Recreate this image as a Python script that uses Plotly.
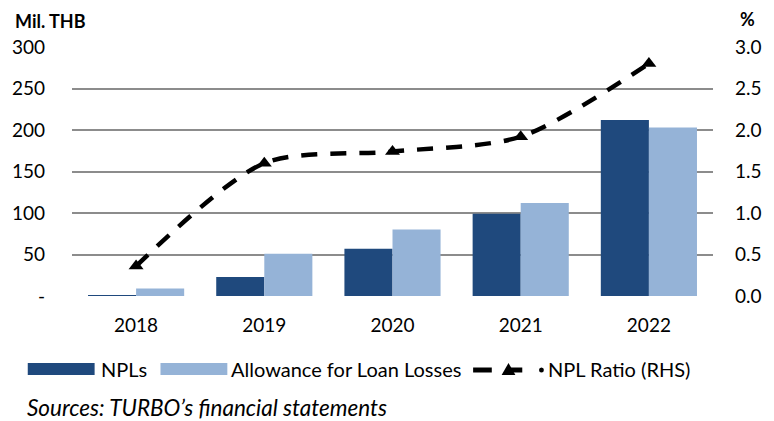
import plotly.graph_objects as go

years = ["2018", "2019", "2020", "2021", "2022"]
npls = [1, 23, 57, 99, 212]
allowance = [9, 51, 80, 112, 203]
npl_ratio = [0.36, 1.6, 1.74, 1.92, 2.8]

left_ticks = [0, 50, 100, 150, 200, 250, 300]
left_text = ["-", "50", "100", "150", "200", "250", "300"]
right_ticks = [0, 0.5, 1.0, 1.5, 2.0, 2.5, 3.0]
right_text = ["0.0", "0.5", "1.0", "1.5", "2.0", "2.5", "3.0"]

C_NPL = "#1F497D"
C_ALW = "#95B3D7"
FONT = "Lato"

W, H = 774, 421
L, R, T, B = 70, 52, 47, 125
pw, ph = W - L - R, H - T - B

def px(x):
    return (x - L) / pw

def py(y):
    return (H - B - y) / ph

fig = go.Figure()
fig.add_trace(go.Bar(x=years, y=npls, name="NPLs", marker_color=C_NPL,
                     marker_line_width=0, showlegend=False))
fig.add_trace(go.Bar(x=years, y=allowance, name="Allowance for Loan Losses",
                     marker_color=C_ALW, marker_line_width=0, showlegend=False))
fig.add_trace(go.Scatter(x=years, y=npl_ratio, yaxis="y2", mode="lines+markers",
                         name="NPL Ratio (RHS)", showlegend=False,
                         line=dict(color="black", width=4.5, dash="16px,13px",
                                   shape="spline", smoothing=0.8),
                         marker=dict(symbol="triangle-up", size=13, color="black")))

shapes = []
annotations = []
# legend
shapes.append(dict(type="rect", xref="paper", yref="paper",
                   x0=px(25), x1=px(93), y0=py(375), y1=py(363),
                   fillcolor=C_NPL, line_width=0))
shapes.append(dict(type="rect", xref="paper", yref="paper",
                   x0=px(160), x1=px(228), y0=py(375), y1=py(363),
                   fillcolor=C_ALW, line_width=0))
for a, b in [(478, 497), (515, 528)]:
    shapes.append(dict(type="line", xref="paper", yref="paper",
                       x0=px(a), x1=px(b), y0=py(370), y1=py(370),
                       line=dict(color="black", width=5)))
shapes.append(dict(type="path", xref="paper", yref="paper",
                   path=f"M {px(507)},{py(375)} L {px(521)},{py(375)} L {px(514)},{py(363)} Z",
                   fillcolor="black", line_width=0))
shapes.append(dict(type="circle", xref="paper", yref="paper",
                   x0=px(545), x1=px(550), y0=py(372.5), y1=py(367.5),
                   fillcolor="black", line_width=0))

def txt(x, y, s, size=20, bold=False, italic=False, xanchor="left"):
    if bold:
        s = f"<b>{s}</b>"
    if italic:
        s = f"<i>{s}</i>"
    annotations.append(dict(x=px(x), y=py(y), xref="paper", yref="paper", text=s,
                            showarrow=False, xanchor=xanchor, yanchor="middle",
                            xshift=-2 if xanchor == "left" else 2,
                            font=dict(family=FONT, size=size, color="black")))

txt(99, 369, "NPLs")
txt(232, 369, "Allowance for Loan Losses")
txt(554, 369, "NPL Ratio (RHS)")
txt(24, 407, "Sources: TURBO’s financial statements", size=22.5, italic=True)
txt(12, 21, "Mil. THB", size=18, bold=True)
txt(765, 19, "%", size=18, bold=True, xanchor="right")

fig.update_layout(
    width=W, height=H,
    margin=dict(l=L, r=R, t=T, b=B),
    paper_bgcolor="white", plot_bgcolor="white",
    barmode="group", bargap=0.25, bargroupgap=0,
    font=dict(family=FONT, size=18, color="black"),
    xaxis=dict(showgrid=False, showline=False, ticks="", ticklabelstandoff=16,
               tickfont=dict(size=19)),
    yaxis=dict(range=[0, 300], tickvals=left_ticks, ticktext=left_text,
               showgrid=True, gridcolor="#8c8c8c", gridwidth=1.5,
               zeroline=False, showline=False, ticks="", ticklabelstandoff=26,
               tickfont=dict(size=19)),
    yaxis2=dict(range=[0, 3], tickvals=right_ticks, ticktext=right_text,
                overlaying="y", side="right", showgrid=False, zeroline=False,
                showline=False, ticks="", ticklabelstandoff=21,
                tickfont=dict(size=19)),
    shapes=shapes, annotations=annotations,
    showlegend=False,
)

fig.write_html("out.html", config={"displayModeBar": False},
               post_script="document.body.style.margin='0';")
